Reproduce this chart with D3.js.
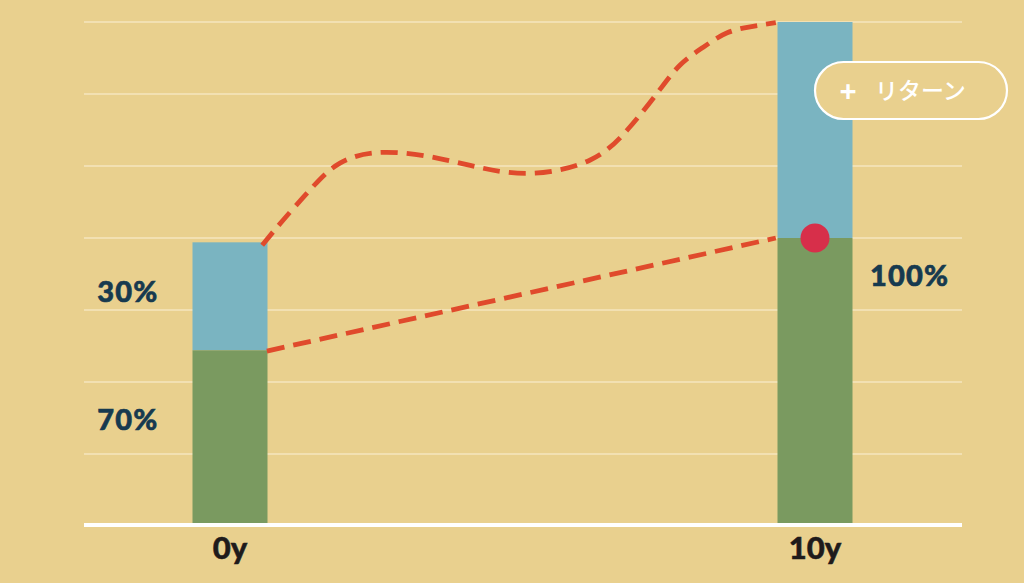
<!DOCTYPE html>
<html>
<head>
<meta charset="utf-8">
<script src="https://cdn.jsdelivr.net/npm/d3@7"></script>
<style>
  html, body { margin: 0; padding: 0; background: #E9D08E; }
  svg { display: block; }
</style>
</head>
<body>
<svg id="chart" width="1024" height="583"></svg>
<script>
// ---- data ----
const categories = ["0y", "10y"];
const categoryYears = [0, 10];
const greenValues = [2.44, 4.0];   // lower (green) segment
const blueValues = [1.50, 3.0];    // upper (blue) segment
const gridTicks = [1, 2, 3, 4, 5, 6, 7];
const shareLabels = [
  { text: "30%", year: -2.27, value: 3.25 },
  { text: "70%", year: -2.27, value: 1.48 },
  { text: "100%", year: 10.94, value: 3.48 }
];
const returnCurveYears = [0.55, 0.91, 1.37, 1.88, 2.62, 3.54, 4.32, 5.18, 6.15, 6.79, 7.30, 7.69, 8.09, 8.50, 8.94, 9.33];
const returnCurveValues = [3.90, 4.25, 4.67, 5.04, 5.19, 5.11, 4.97, 4.90, 5.08, 5.50, 6.01, 6.40, 6.65, 6.85, 6.94, 6.99];
const baseLineYears = [0.63, 9.33];
const baseLineValues = [2.43, 4.0];
const dotPoint = { year: 10, value: 4.0 };
const legendText = "リターン";

// ---- layout ----
const svg = d3.select("#chart");
const colors = {
  bg: "#E9D08E", grid: "#F5E6BE", blue: "#7AB4C1", green: "#7A9A60",
  red: "#E04A2C", dot: "#D72F4A", label: "#173A4F", axis: "#1F1B1B"
};

const x = d3.scaleLinear().domain([0, 10]).range([230, 815]);
const y = d3.scaleLinear().domain([0, 7]).range([526, 22]);
const barW = 75;

// gridlines
svg.append("g").selectAll("line").data(gridTicks).join("line")
  .attr("x1", 84).attr("x2", 962)
  .attr("y1", d => y(d)).attr("y2", d => y(d))
  .attr("stroke", colors.grid).attr("stroke-width", 1.3);

// bars
const barData = categories.map((c, i) => ({ c, year: categoryYears[i], g: greenValues[i], b: blueValues[i] }));
const bars = svg.append("g");
bars.selectAll("rect.blue").data(barData).join("rect")
  .attr("class", "blue")
  .attr("x", d => x(d.year) - barW / 2).attr("width", barW)
  .attr("y", d => y(d.g + d.b)).attr("height", d => y(d.g) - y(d.g + d.b))
  .attr("fill", colors.blue);
bars.selectAll("rect.green").data(barData).join("rect")
  .attr("class", "green")
  .attr("x", d => x(d.year) - barW / 2).attr("width", barW)
  .attr("y", d => y(d.g)).attr("height", d => y(0) - y(d.g))
  .attr("fill", colors.green);

// baseline
svg.append("line")
  .attr("x1", 84).attr("x2", 962)
  .attr("y1", y(0) - 1).attr("y2", y(0) - 1)
  .attr("stroke", "#FFFFFF").attr("stroke-width", 4);

// dashed lines
svg.append("path")
  .datum(returnCurveYears.map((v, i) => [v, returnCurveValues[i]]))
  .attr("d", d3.line().x(d => x(d[0])).y(d => y(d[1])).curve(d3.curveNatural))
  .attr("fill", "none").attr("stroke", colors.red)
  .attr("stroke-width", 4.8).attr("stroke-dasharray", "17,9");
svg.append("path")
  .datum(baseLineYears.map((v, i) => [v, baseLineValues[i]]))
  .attr("d", d3.line().x(d => x(d[0])).y(d => y(d[1])))
  .attr("fill", "none").attr("stroke", colors.red)
  .attr("stroke-width", 4.8).attr("stroke-dasharray", "18,9");

// dot
svg.append("circle")
  .attr("cx", x(dotPoint.year)).attr("cy", y(dotPoint.value))
  .attr("r", 14.5).attr("fill", colors.dot);

// share labels
svg.append("g").selectAll("text").data(shareLabels).join("text")
  .attr("x", d => x(d.year)).attr("y", d => y(d.value))
  .attr("dy", "0.36em")
  .attr("font-family", "Lato, 'Noto Sans', sans-serif")
  .attr("font-weight", 900).attr("font-size", 29)
  .attr("letter-spacing", 1.2)
  .attr("stroke", colors.label).attr("stroke-width", 0.6)
  .attr("fill", colors.label)
  .text(d => d.text);

// category labels
svg.append("g").selectAll("text").data(barData).join("text")
  .attr("x", d => x(d.year)).attr("y", 559)
  .attr("text-anchor", "middle")
  .attr("font-family", "Lato, 'Noto Sans', sans-serif")
  .attr("font-weight", 900).attr("font-size", 31)
  .attr("stroke", colors.axis).attr("stroke-width", 0.5)
  .attr("fill", colors.axis)
  .text(d => d.c);

// legend pill
const lg = svg.append("g");
lg.append("rect")
  .attr("x", 815).attr("y", 62).attr("width", 192).attr("height", 57)
  .attr("rx", 28.5).attr("fill", colors.bg)
  .attr("stroke", "#FFFFFF").attr("stroke-width", 2.2);
lg.append("text")
  .attr("x", 848).attr("y", 91).attr("dy", "0.35em")
  .attr("text-anchor", "middle")
  .attr("font-family", "'Noto Sans', sans-serif").attr("font-weight", 700)
  .attr("font-size", 30).attr("fill", "#FFFFFF")
  .text("+");
lg.append("text")
  .attr("x", 875).attr("y", 91).attr("dy", "0.35em")
  .attr("font-family", "'Noto Sans CJK JP', sans-serif").attr("font-weight", 500)
  .attr("font-size", 23).attr("fill", "#FFFFFF")
  .text(legendText);
</script>
</body>
</html>
